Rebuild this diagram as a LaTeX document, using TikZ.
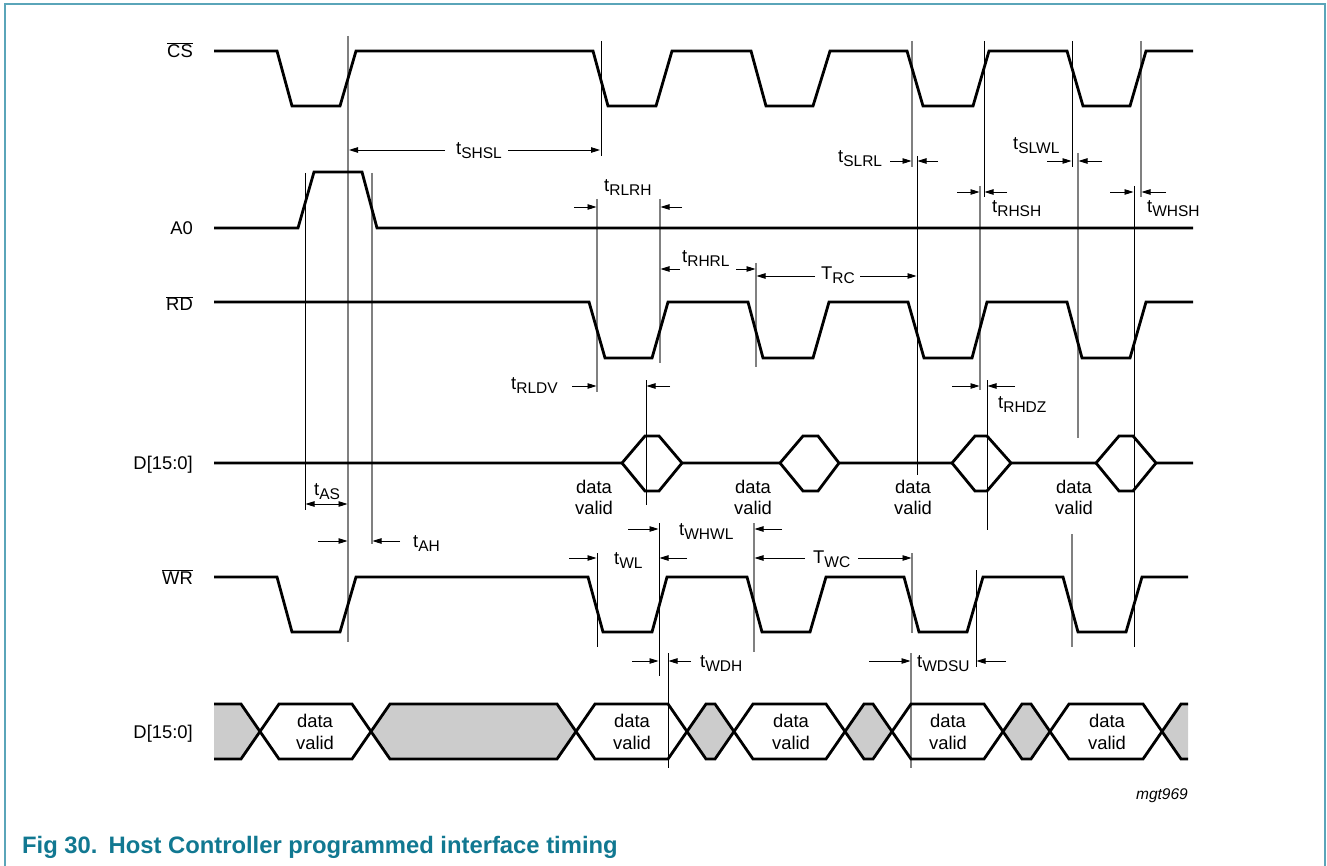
\documentclass[tikz,border=0pt]{standalone}
\usepackage{fontspec}
\setmainfont{Liberation Sans}
\usetikzlibrary{arrows.meta}
\definecolor{framecol}{HTML}{5AA5B9}
\definecolor{capcol}{HTML}{117891}
\definecolor{busgray}{HTML}{CCCCCC}
\newcommand\tm[2]{#1\raisebox{-4pt}{\fontsize{15.5}{16}\selectfont #2}}
\newcommand\ovl[1]{$\overline{\mbox{#1}}$}
\begin{document}
\begin{tikzpicture}[x=1pt,y=-1pt,
  every node/.style={inner sep=0pt,font=\fontsize{18.4}{21}\selectfont},
  sig/.style={line width=2.8pt},
  gl/.style={line width=1.2pt,draw=black!50},
  kl/.style={line width=0.9pt,draw=black},
  arr/.style={line width=0.9pt,-{Triangle[length=9pt,width=5.5pt]}},
  darr/.style={line width=0.9pt,{Triangle[length=9pt,width=5.5pt]}-{Triangle[length=9pt,width=5.5pt]}},
  sname/.style={anchor=base east},
  tlab/.style={anchor=base west},
  dlab/.style={anchor=base}]
\useasboundingbox (0,0) rectangle (1327,866);
% frame
\draw[framecol,line width=1.6pt] (5,870) -- (5,4) -- (1325,4) -- (1325,870);
% signal names
\node[sname] (ncs) at (193,57.6) {\ovl{CS}};
\node[sname] (na0) at (193,234.6) {A0};
\node[sname] (nrd) at (193,311) {\ovl{RD}};
\node[sname] (nd1) at (193,469.6) {D[15:0]};
\node[sname] (nwr) at (193,584.6) {\ovl{WR}};
\node[sname] (nd2) at (193,738.6) {D[15:0]};
% bus fills
\fill[busgray] (214,704) -- (241,704) -- (260,731.5) -- (241,759) -- (214,759) -- cycle;
\fill[busgray] (371,731.5) -- (390,704) -- (557,704) -- (576,731.5) -- (557,759) -- (390,759) -- cycle;
\fill[busgray] (687,731.5) -- (706,704) -- (715,704) -- (734,731.5) -- (715,759) -- (706,759) -- cycle;
\fill[busgray] (845,731.5) -- (864,704) -- (873,704) -- (892,731.5) -- (873,759) -- (864,759) -- cycle;
\fill[busgray] (1003,731.5) -- (1022,704) -- (1031,704) -- (1050,731.5) -- (1031,759) -- (1022,759) -- cycle;
\fill[busgray] (1162,731.5) -- (1181,704) -- (1188,704) -- (1188,759) -- (1181,759) -- cycle;
% vertical reference lines
\draw[gl] (348,36) -- (348,642);
\draw[kl] (305,173) -- (305,510);
\draw[gl] (372,173) -- (372,544);
\draw[kl] (601,41) -- (601,156);
\draw[gl] (597,199) -- (597,392);
\draw[gl] (660,199) -- (660,363);
\draw[kl] (646,380) -- (646,505);
\draw[gl] (756,263) -- (756,367);
\draw[gl] (912,41) -- (912,167);
\draw[kl] (917,156) -- (917,475);
\draw[kl] (984,41) -- (984,197);
\draw[gl] (980,186) -- (980,390);
\draw[kl] (987,380) -- (987,530);
\draw[kl] (1072,41) -- (1072,167);
\draw[gl] (1078,153) -- (1078,438);
\draw[gl] (1141,41) -- (1141,197);
\draw[kl] (1134,186) -- (1134,647);
\draw[kl] (597,553) -- (597,647);
\draw[kl] (659,523) -- (659,676);
\draw[gl] (754,523) -- (754,652);
\draw[gl] (912,553) -- (912,633);
\draw[gl] (911,653) -- (911,768);
\draw[kl] (976,570) -- (976,667);
\draw[gl] (1072,534) -- (1072,647);
\draw[kl] (668,653) -- (668,768);
% waveforms
\draw[sig] (214,51) -- (277,51) -- (292,106) -- (340,106) -- (356,51) -- (593,51) -- (608,106) -- (656,106) -- (672,51) -- (751,51) -- (766,106) -- (813,106) -- (830,51) -- (907,51) -- (923,106) -- (973,106) -- (989,51) -- (1067,51) -- (1083,106) -- (1130,106) -- (1146,51) -- (1193,51);
\draw[sig] (214,228) -- (298,228) -- (314,172) -- (362,172) -- (377,228) -- (1193,228);
\draw[sig] (214,302) -- (589,302) -- (605,358) -- (652,358) -- (668,302) -- (748,302) -- (763,358) -- (813,358) -- (829,302) -- (908,302) -- (924,358) -- (972,358) -- (987,302) -- (1067,302) -- (1082,358) -- (1130,358) -- (1146,302) -- (1193,302);
\draw[sig] (214,463) -- (622,463) -- (645,436) -- (659,436) -- (682,463) -- (780,463) -- (803,436) -- (818,436) -- (839,463) -- (952,463) -- (975,436) -- (987,436) -- (1011,463) -- (1096,463) -- (1119,436) -- (1133,436) -- (1156,463) -- (1193,463);
\draw[sig] (622,463) -- (645,491) -- (659,491) -- (682,463);
\draw[sig] (780,463) -- (803,491) -- (818,491) -- (839,463);
\draw[sig] (952,463) -- (975,491) -- (987,491) -- (1011,463);
\draw[sig] (1096,463) -- (1119,491) -- (1133,491) -- (1156,463);
\draw[sig] (214,577) -- (277,577) -- (292,632) -- (340,632) -- (356,577) -- (588,577) -- (603,632) -- (652,632) -- (667,577) -- (747,577) -- (762,632) -- (810,632) -- (826,577) -- (904,577) -- (919,632) -- (967,632) -- (983,577) -- (1063,577) -- (1078,632) -- (1126,632) -- (1142,577) -- (1188,577);
\draw[sig] (214,704) -- (241,704) -- (279,759) -- (352,759) -- (390,704) -- (557,704) -- (595,759) -- (668,759) -- (706,704) -- (715,704) -- (753,759) -- (826,759) -- (864,704) -- (873,704) -- (911,759) -- (984,759) -- (1022,704) -- (1031,704) -- (1069,759) -- (1143,759) -- (1181,704) -- (1188,704);
\draw[sig] (214,759) -- (241,759) -- (279,704) -- (352,704) -- (390,759) -- (557,759) -- (595,704) -- (668,704) -- (706,759) -- (715,759) -- (753,704) -- (826,704) -- (864,759) -- (873,759) -- (911,704) -- (984,704) -- (1022,759) -- (1031,759) -- (1069,704) -- (1143,704) -- (1181,759) -- (1188,759);
% dimension arrows
\draw[arr] (445,150) -- (349,150);
\draw[arr] (508,150) -- (600,150);
\draw[arr] (574,207) -- (596.5,207);
\draw[arr] (682,207) -- (660.5,207);
\draw[arr] (890,161) -- (911.5,161);
\draw[arr] (938,161) -- (917.5,161);
\draw[arr] (1047,161) -- (1071.5,161);
\draw[arr] (1102,161) -- (1078.5,161);
\draw[arr] (957,192) -- (979.5,192);
\draw[arr] (1007,192) -- (984.5,192);
\draw[arr] (1110,192) -- (1133.5,192);
\draw[arr] (1166,192) -- (1141.5,192);
\draw[arr] (680,269) -- (660.5,269);
\draw[arr] (736,269) -- (755.5,269);
\draw[arr] (815,276) -- (756.5,276);
\draw[arr] (860,276) -- (916.5,276);
\draw[arr] (572,386) -- (596.5,386);
\draw[arr] (670,386) -- (646.5,386);
\draw[arr] (952,386) -- (979.5,386);
\draw[arr] (1015,386) -- (987.5,386);
\draw[darr] (305.5,504) -- (347.5,504);
\draw[arr] (318,541) -- (347.5,541);
\draw[arr] (400,541) -- (372.5,541);
\draw[arr] (628,529) -- (658.5,529);
\draw[arr] (782,529) -- (754.5,529);
\draw[arr] (569,558) -- (596.5,558);
\draw[arr] (687,558) -- (659.5,558);
\draw[arr] (805,558) -- (754.5,558);
\draw[arr] (858,558) -- (911.5,558);
\draw[arr] (632,661) -- (658.5,661);
\draw[arr] (691,661) -- (668.5,661);
\draw[arr] (869,661) -- (910.5,661);
\draw[arr] (1006,661) -- (976.5,661);
% timing labels
\node[tlab] (lshsl) at (456,155) {\tm{t}{SHSL}};
\node[tlab] (lrlrh) at (604,192) {\tm{t}{RLRH}};
\node[tlab] (lslrl) at (838,163) {\tm{t}{SLRL}};
\node[tlab] (lslwl) at (1013,150) {\tm{t}{SLWL}};
\node[tlab] (lrhsh) at (992,213) {\tm{t}{RHSH}};
\node[tlab] (lwhsh) at (1147,213) {\tm{t}{WHSH}};
\node[tlab] (lrhrl) at (682,263) {\tm{t}{RHRL}};
\node[tlab] (lrc) at (821,280) {\tm{T}{RC}};
\node[tlab] (lrldv) at (511,389) {\tm{t}{RLDV}};
\node[tlab] (lrhdz) at (998,408) {\tm{t}{RHDZ}};
\node[tlab] (las) at (314,495) {\tm{t}{AS}};
\node[tlab] (lah) at (413,547) {\tm{t}{AH}};
\node[tlab] (lwhwl) at (679,535) {\tm{t}{WHWL}};
\node[tlab] (lwl) at (614,564) {\tm{t}{WL}};
\node[tlab] (lwc) at (813,563) {\tm{T}{WC}};
\node[tlab] (lwdh) at (700,667) {\tm{t}{WDH}};
\node[tlab] (lwdsu) at (917,667) {\tm{t}{WDSU}};
% data valid labels (middle bus)
\foreach \x/\n in {594/a,753/b,913/c,1074/d}{
  \node[dlab] (dva\n) at (\x,493) {data};
  \node[dlab] (dvb\n) at (\x,514.5) {valid};
}
% data valid labels (bottom bus)
\foreach \x/\n in {315/a,632/b,791/c,948/d,1107/e}{
  \node[dlab] (dwa\n) at (\x,727) {data};
  \node[dlab] (dwb\n) at (\x,749) {valid};
}
\node[anchor=base east,font=\fontsize{15.5}{18}\selectfont\itshape] (mgt) at (1188,799) {mgt969};
\node[anchor=base west,font=\fontsize{23.8}{27}\selectfont\bfseries,text=capcol] (cap) at (22,853) {Fig 30.\hspace{11pt}Host Controller programmed interface timing};
\end{tikzpicture}
\end{document}
